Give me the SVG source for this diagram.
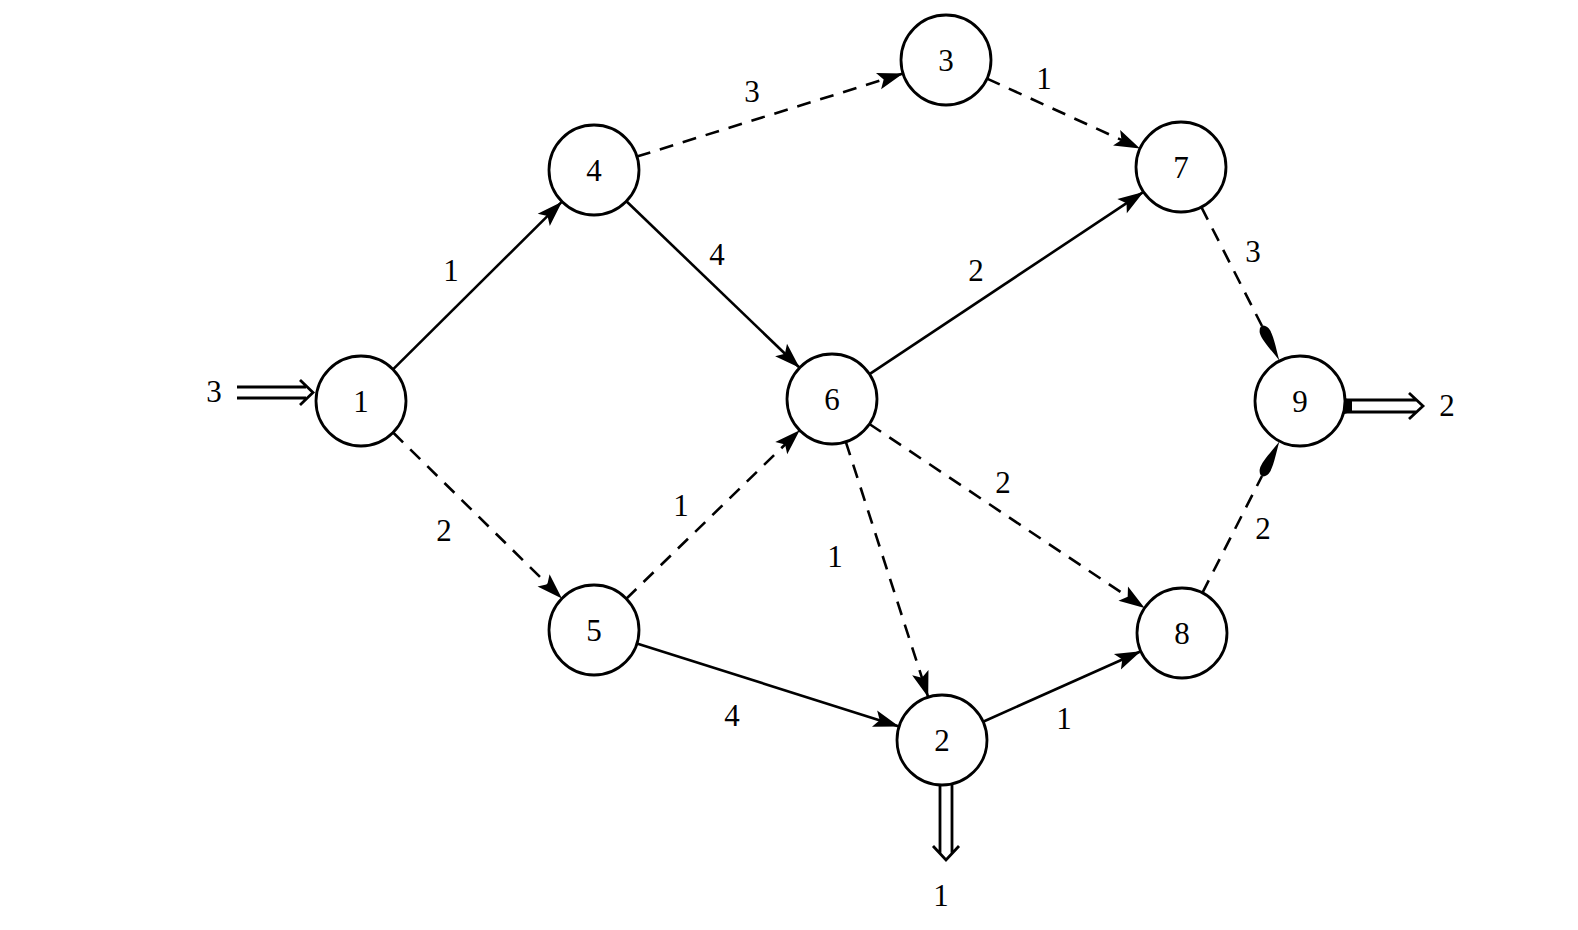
<svg xmlns="http://www.w3.org/2000/svg" width="1578" height="930" viewBox="0 0 1578 930">
<style>
.node circle{fill:#fff;stroke:#000;stroke-width:2.8}
text{font-family:"Liberation Serif","DejaVu Serif",serif;font-size:31px;fill:#000;text-anchor:middle}
.e{stroke:#000;stroke-width:2.6;fill:none}
.s{marker-end:url(#ah)}
.d{stroke-dasharray:14 10;marker-end:url(#ah)}
.d9{stroke-dasharray:14 10}
.dbl{stroke:#000;fill:none;stroke-width:2.8}
.tear{fill:#000}
</style>
<defs>
<marker id="ah" markerUnits="userSpaceOnUse" markerWidth="30" markerHeight="20" viewBox="-26 -9 28 18" refX="0" refY="0" orient="auto">
<path d="M0,0 L-24,-8 L-19,0 L-24,8 Z" fill="#000"/>
</marker>
</defs>
<rect width="1578" height="930" fill="#fff"/>
<g id="connectors">
<line class="e s" x1="393" y1="369.3" x2="562" y2="201.7"/>
<line class="e d" x1="393.1" y1="432.5" x2="561.9" y2="598.5"/>
<line class="e d" x1="636.9" y1="156.6" x2="903.1" y2="73.4"/>
<line class="e s" x1="626.4" y1="201.2" x2="799.6" y2="367.8"/>
<line class="e d" x1="987" y1="78.6" x2="1140" y2="148.4"/>
<line class="e s" x1="869.5" y1="374.1" x2="1143.5" y2="191.9"/>
<line class="e d9" x1="1201.4" y1="207.1" x2="1262" y2="326"/>
<path class="tear" transform="translate(1279.6,360.9) rotate(63.05)" d="M0,0 C-8,-1 -26,-7 -34,-5 C-41,-2.5 -41,2.5 -34,5 C-26,7 -8,1 0,0 Z"/>
<line class="e d" x1="626.3" y1="598.7" x2="799.7" y2="430.3"/>
<line class="e d" x1="845.8" y1="441.8" x2="928.2" y2="697.2"/>
<line class="e d" x1="869.4" y1="424" x2="1144.6" y2="608"/>
<line class="e s" x1="636.9" y1="643.6" x2="899.1" y2="726.4"/>
<line class="e s" x1="983.1" y1="721.7" x2="1140.9" y2="651.3"/>
<line class="e d9" x1="1202.4" y1="592.9" x2="1262" y2="476"/>
<path class="tear" transform="translate(1279.6,441.1) rotate(-63.05)" d="M0,0 C-8,-1 -26,-7 -34,-5 C-41,-2.5 -41,2.5 -34,5 C-26,7 -8,1 0,0 Z"/>
<g id="io">
<path class="dbl" d="M237,387 H306 M237,398 H306 M300,380 L313,392.5 L300,405"/>
<path class="dbl" d="M1344,400 H1416 M1344,412 H1416 M1409,393 L1423,406 L1409,419"/>
<path d="M1336,393 Q1346,400 1352,400 L1352,412 Q1346,412 1336,419 Z" fill="#000"/>
<path class="dbl" d="M940,785 V853 M952,785 V853 M933,846 L946,860 L959,846"/>
</g>
</g>
<g id="node1" class="node"><circle cx="361" cy="401" r="45"/><text x="361" y="412">1</text></g>
<g id="node4" class="node"><circle cx="594" cy="170" r="45"/><text x="594" y="181">4</text></g>
<g id="node3" class="node"><circle cx="946" cy="60" r="45"/><text x="946" y="71">3</text></g>
<g id="node7" class="node"><circle cx="1181" cy="167" r="45"/><text x="1181" y="178">7</text></g>
<g id="node6" class="node"><circle cx="832" cy="399" r="45"/><text x="832" y="410">6</text></g>
<g id="node9" class="node"><circle cx="1300" cy="401" r="45"/><text x="1300" y="412">9</text></g>
<g id="node5" class="node"><circle cx="594" cy="630" r="45"/><text x="594" y="641">5</text></g>
<g id="node8" class="node"><circle cx="1182" cy="633" r="45"/><text x="1182" y="644">8</text></g>
<g id="node2" class="node"><circle cx="942" cy="740" r="45"/><text x="942" y="751">2</text></g>
<g id="labels">
<text x="214" y="402">3</text>
<text x="1447" y="416">2</text>
<text x="941" y="906">1</text>
<text x="451" y="281">1</text>
<text x="444" y="541">2</text>
<text x="752" y="102">3</text>
<text x="717" y="265">4</text>
<text x="1044" y="89">1</text>
<text x="976" y="281">2</text>
<text x="1253" y="262">3</text>
<text x="681" y="516">1</text>
<text x="835" y="567">1</text>
<text x="1003" y="493">2</text>
<text x="732" y="726">4</text>
<text x="1064" y="729">1</text>
<text x="1263" y="539">2</text>
</g>
</svg>
